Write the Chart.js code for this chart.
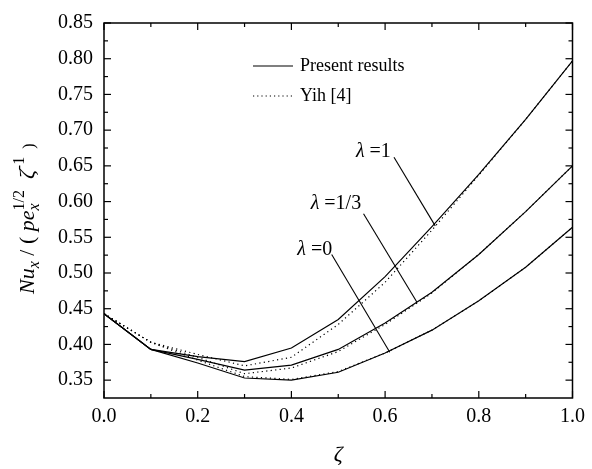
<!DOCTYPE html>
<html>
<head>
<meta charset="utf-8">
<script src="https://cdn.jsdelivr.net/npm/chart.js@4.4.1/dist/chart.umd.min.js"></script>
<style>
html,body{margin:0;padding:0;background:#fff;}
#wrap{width:592px;height:469px;}
</style>
</head>
<body>
<div id="wrap"><canvas id="c" width="592" height="469"></canvas></div>
<script>
// ---- data ----
const zeta = [0.0, 0.1, 0.2, 0.3, 0.4, 0.5, 0.6, 0.7, 0.8, 0.9, 1.0];
const presentL1  = [0.443, 0.393, 0.383, 0.376, 0.395, 0.435, 0.495, 0.565, 0.638, 0.715, 0.797];
const presentL13 = [0.443, 0.393, 0.379, 0.364, 0.371, 0.393, 0.430, 0.473, 0.526, 0.586, 0.650];
const presentL0  = [0.443, 0.393, 0.374, 0.353, 0.350, 0.361, 0.388, 0.420, 0.461, 0.508, 0.564];
const yihL1  = [0.443, 0.403, 0.386, 0.370, 0.382, 0.428, 0.487, 0.560, 0.637, 0.715, 0.797];
const yihL13 = [0.443, 0.403, 0.382, 0.359, 0.367, 0.390, 0.428, 0.472, 0.526, 0.586, 0.650];
const yihL0  = [0.443, 0.403, 0.378, 0.355, 0.351, 0.362, 0.388, 0.420, 0.461, 0.508, 0.564];
const xTicks = [0.0, 0.2, 0.4, 0.6, 0.8, 1.0];
const xMinor = [0.1, 0.3, 0.5, 0.7, 0.9];
const yTicks = [0.35, 0.40, 0.45, 0.50, 0.55, 0.60, 0.65, 0.70, 0.75, 0.80, 0.85];
const yMinor = [0.375, 0.425, 0.475, 0.525, 0.575, 0.625, 0.675, 0.725, 0.775, 0.825];
const legendNames = ['Present results', 'Yih [4]'];
// curve labels: [greek, rest], anchor (x,y) in data, leader start and end in data
const curveLabels = [
  {greek: 'λ', rest: ' =1',   at: [0.575, 0.672], from: [0.619, 0.662], to: [0.707, 0.566]},
  {greek: 'λ', rest: ' =1/3', at: [0.495, 0.600], from: [0.554, 0.583], to: [0.668, 0.459]},
  {greek: 'λ', rest: ' =0',   at: [0.450, 0.535], from: [0.486, 0.526], to: [0.610, 0.389]}
];

const toXY = ys => zeta.map((x, i) => ({x: x, y: ys[i]}));
const SERIF = '"Liberation Serif", "DejaVu Serif", serif';

function solid(label, ys) {
  return {label, data: toXY(ys), borderColor: '#000', borderWidth: 1.2, pointRadius: 0, tension: 0, fill: false};
}
function dotted(label, ys) {
  return {label, data: toXY(ys), borderColor: '#000', borderWidth: 1.2, borderDash: [1.2, 3.3], pointRadius: 0, tension: 0, fill: false};
}

const framePlugin = {
  id: 'frame',
  afterDraw(chart) {
    const ctx = chart.ctx;
    const xs = chart.scales.x, ys = chart.scales.y;
    const a = chart.chartArea;
    ctx.save();
    ctx.strokeStyle = '#000';
    ctx.lineWidth = 1.5;
    ctx.strokeRect(a.left, a.top, a.right - a.left, a.bottom - a.top);
    ctx.lineWidth = 1.2;
    const tick = (x1, y1, x2, y2) => { ctx.beginPath(); ctx.moveTo(x1, y1); ctx.lineTo(x2, y2); ctx.stroke(); };
    xTicks.forEach(v => { const p = xs.getPixelForValue(v); tick(p, a.bottom, p, a.bottom - 7); tick(p, a.top, p, a.top + 7); });
    xMinor.forEach(v => { const p = xs.getPixelForValue(v); tick(p, a.bottom, p, a.bottom - 4); tick(p, a.top, p, a.top + 4); });
    yTicks.forEach(v => { const p = ys.getPixelForValue(v); tick(a.left, p, a.left + 7, p); tick(a.right, p, a.right - 7, p); });
    yMinor.forEach(v => { const p = ys.getPixelForValue(v); tick(a.left, p, a.left + 4, p); tick(a.right, p, a.right - 4, p); });

    // leader lines and labels
    ctx.lineWidth = 1.1;
    curveLabels.forEach(l => {
      tick(xs.getPixelForValue(l.from[0]), ys.getPixelForValue(l.from[1]), xs.getPixelForValue(l.to[0]), ys.getPixelForValue(l.to[1]));
      ctx.font = 'italic 20px ' + SERIF;
      const wg = ctx.measureText(l.greek).width;
      ctx.font = '20px ' + SERIF;
      const wr = ctx.measureText(l.rest).width;
      const cx = xs.getPixelForValue(l.at[0]), cy = ys.getPixelForValue(l.at[1]);
      let x0 = cx - (wg + wr) / 2;
      ctx.fillStyle = '#000';
      ctx.textBaseline = 'alphabetic';
      ctx.textAlign = 'left';
      ctx.font = 'italic 20px ' + SERIF;
      ctx.fillText(l.greek, x0, cy + 7);
      ctx.font = '20px ' + SERIF;
      ctx.fillText(l.rest, x0 + wg, cy + 7);
    });

    // legend
    const lx = a.left + 149, ly = a.top + 43;
    ctx.lineWidth = 1.2;
    tick(lx, ly, lx + 40, ly);
    ctx.setLineDash([1.2, 3]);
    tick(lx, ly + 30, lx + 40, ly + 30);
    ctx.setLineDash([]);
    ctx.font = '18px ' + SERIF;
    ctx.textBaseline = 'middle';
    ctx.fillText(legendNames[0], lx + 47, ly);
    ctx.fillText(legendNames[1], lx + 47, ly + 30);

    // x title
    ctx.font = 'italic 22px ' + SERIF;
    ctx.textAlign = 'center';
    ctx.textBaseline = 'alphabetic';
    ctx.fillText('ζ', (a.left + a.right) / 2, 461);

    // y title, rotated
    ctx.translate(34, 294);
    ctx.rotate(-Math.PI / 2);
    ctx.textAlign = 'left';
    let x = 0;
    const put = (txt, font, dy) => { ctx.font = font; ctx.fillText(txt, x, dy); const w = ctx.measureText(txt).width; x += w; return w; };
    const BIG = '22px ' + SERIF, BIGI = 'italic 22px ' + SERIF, SM = '16px ' + SERIF, SMI = 'italic 16px ' + SERIF;
    put('Nu', BIGI, 0);
    put('x', SMI, 5);
    put(' / ( ', BIG, 0);
    put('pe', BIGI, 0);
    const xs0 = x;
    ctx.font = SMI; ctx.fillText('x', xs0, 5);
    x = xs0;
    put('1/2', SM, -10);
    put('  ', BIG, 0);
    put('ζ', BIGI, 0);
    put('-1', SM, -10);
    put('  )', SM, 0);
    ctx.restore();
  }
};

new Chart(document.getElementById('c'), {
  type: 'line',
  data: {
    datasets: [
      solid('λ=1', presentL1), solid('λ=1/3', presentL13), solid('λ=0', presentL0),
      dotted('Yih λ=1', yihL1), dotted('Yih λ=1/3', yihL13), dotted('Yih λ=0', yihL0)
    ]
  },
  options: {
    responsive: false,
    animation: false,
    devicePixelRatio: 1,
    layout: {padding: {top: 19, right: 15, left: 0, bottom: 0}},
    plugins: {legend: {display: false}, tooltip: {enabled: false}},
    scales: {
      x: {
        type: 'linear', min: 0, max: 1,
        afterFit: s => { s.height = 71; },
        afterBuildTicks: s => { s.ticks = xTicks.map(v => ({value: v})); },
        grid: {display: false, drawTicks: false},
        border: {display: false},
        ticks: {padding: 7, color: '#000', font: {family: SERIF, size: 20}, callback: v => Number(v).toFixed(1), maxRotation: 0}
      },
      y: {
        type: 'linear', min: 0.325, max: 0.85,
        afterFit: s => { s.width = 104; },
        afterBuildTicks: s => { s.ticks = yTicks.map(v => ({value: v})); },
        grid: {display: false, drawTicks: false},
        border: {display: false},
        ticks: {padding: 11, color: '#000', font: {family: SERIF, size: 20}, callback: v => Number(v).toFixed(2)}
      }
    }
  },
  plugins: [framePlugin]
});
</script>
</body>
</html>
